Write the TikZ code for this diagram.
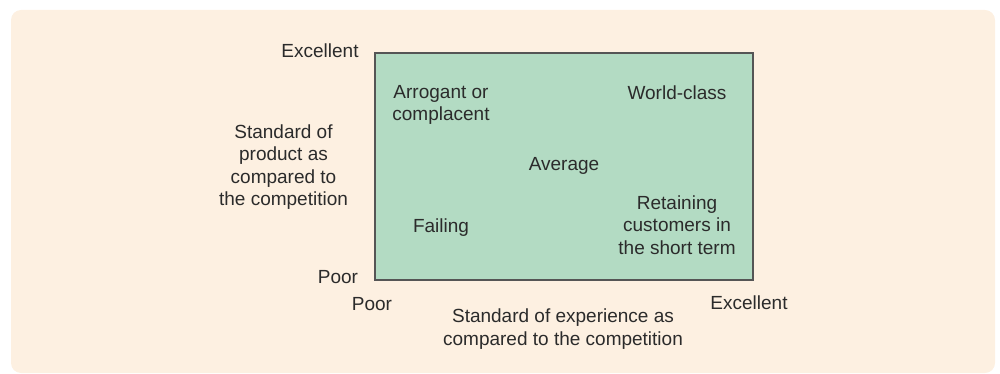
\documentclass[tikz,border=0pt]{standalone}
\usepackage{fontspec}
\setmainfont{Liberation Sans}
\definecolor{panel}{HTML}{FDF0E1}
\definecolor{grid}{HTML}{B3DBC3}
\definecolor{txt}{HTML}{2B2B2B}
\definecolor{edge}{HTML}{555555}
\begin{document}
\begin{tikzpicture}[x=1pt,y=-1pt,
  lbl/.style={font=\fontsize{19}{22.5}\selectfont, text=txt, inner sep=0pt, align=center}]
\useasboundingbox (0,0) rectangle (1000,374);
\fill[panel, rounded corners=10pt] (11,10) rectangle (995,373);
\node[draw=edge, line width=1.2pt, fill=grid, minimum width=378pt, minimum height=227pt, inner sep=0pt] (box) at (564,166.5) {};
\node[lbl] (yex) at (320,51) {Excellent};
\node[lbl] (yaxis) at (283.5,167) {Standard of\\product as\\compared to\\the competition};
\node[lbl] (ypoor) at (338,277) {Poor};
\node[lbl] (xpoor) at (372,304) {Poor};
\node[lbl] (xex) at (749,303) {Excellent};
\node[lbl] (xaxis) at (563,329) {Standard of experience as\\compared to the competition};
\node[lbl] (arr) at (441,105) {Arrogant or\\complacent};
\node[lbl] (wc) at (677,93) {World-class};
\node[lbl] (avg) at (564,166) {Average};
\node[lbl] (fail) at (441,228) {Failing};
\node[lbl] (ret) at (677,225) {Retaining\\customers in\\the short term};
\end{tikzpicture}
\end{document}
